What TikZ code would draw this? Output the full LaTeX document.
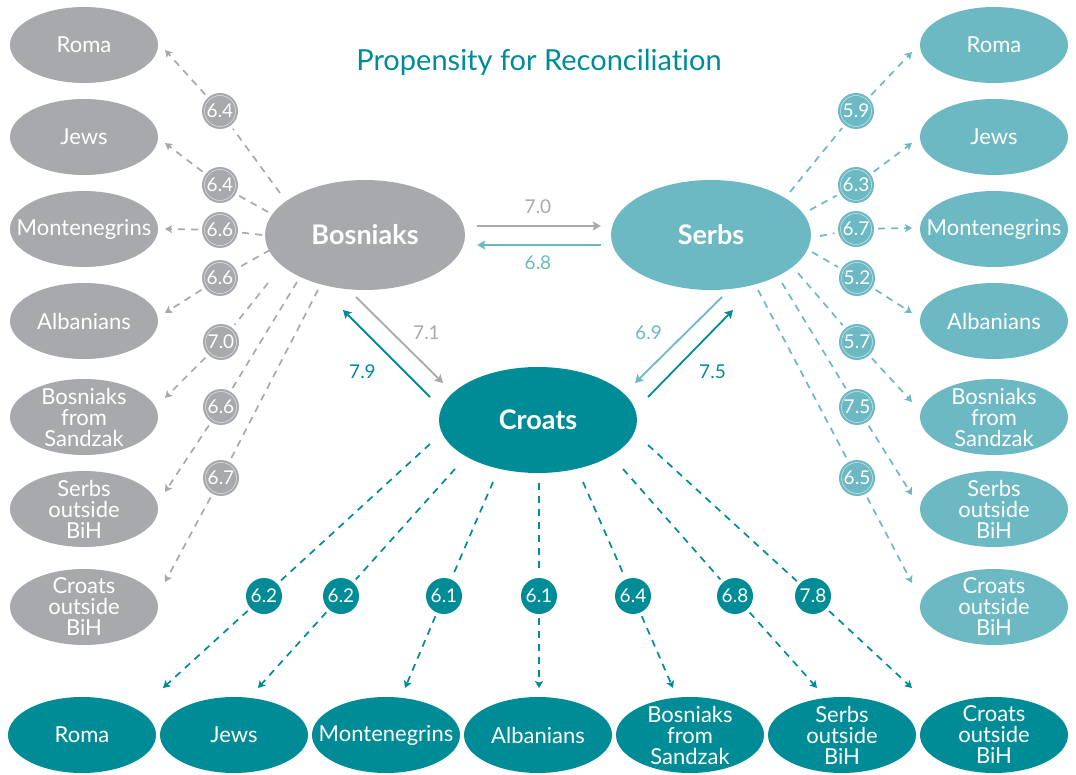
\documentclass[tikz,border=0pt]{standalone}
\usepackage{fontspec}
\setmainfont{Lato}[Ligatures=NoCommon]
\usetikzlibrary{shapes.geometric,arrows.meta}
\definecolor{cgray}{HTML}{A7A9AC}
\definecolor{clt}{HTML}{6CB9C3}
\definecolor{cdk}{HTML}{008C96}
\newcommand\lblfont{\fontsize{22}{21}\selectfont}
\newcommand\numfont{\fontsize{19}{19}\selectfont}
\newcommand\bigfont{\fontsize{27}{27}\selectfont\bfseries}
\newcommand\titlefont{\fontsize{29}{29}\selectfont}
\tikzset{
  oval/.style={ellipse, fill=#1, minimum width=148pt, minimum height=76pt, inner sep=0pt},
  otxt/.style={text=white, font=\lblfont, align=center},
  mainoval/.style={ellipse, fill=#1, minimum width=200pt, minimum height=110pt, inner sep=0pt, text=white, font=\bigfont},
  numc/.style={circle, fill=#1, minimum size=36pt, inner sep=0pt, outer sep=4pt, text=white, font=\numfont},
  ring/.style={path picture={\draw[white!70!#1, line width=0.5pt] (path picture bounding box.center) circle (15.5pt);}},
  dashln/.style={draw=#1, line width=1.7pt, dash pattern=on 7pt off 6pt},
  dtip/.style={-{Stealth[length=7pt,width=8pt,inset=1.5pt]}},
  solidarr/.style={draw=#1, line width=1.8pt, -{Stealth[length=8pt,width=9pt,inset=1.5pt]}},
  lab/.style={text=#1, font=\numfont, inner sep=0pt}
}
\begin{document}
\begin{tikzpicture}[x=1pt,y=-1pt]
\useasboundingbox (0,0) rectangle (1076,775);

% title
\node[text=cdk, font=\titlefont] (title) at (539,62) {Propensity for Reconciliation};

% main nodes
\node[mainoval=cgray] (bos) at (365,235) {Bosniaks};
\node[mainoval=clt] (ser) at (711,235) {Serbs};
\node[mainoval=cdk, minimum width=198pt, minimum height=106pt] (cro) at (538,420) {Croats};

% left column (gray)
\node[oval=cgray, label={[otxt]center:Roma}] (lroma) at (84,45) {};
\node[oval=cgray, label={[otxt]center:Jews}] (ljews) at (84,137) {};
\node[oval=cgray, label={[otxt]center:Montenegrins}] (lmont) at (84,229) {};
\node[oval=cgray, label={[otxt]center:Albanians}] (lalb) at (84,321) {};
\node[oval=cgray, label={[otxt]center:{Bosniaks\\from\\Sandzak}}] (lsan) at (84,417) {};
\node[oval=cgray, label={[otxt]center:{Serbs\\outside\\BiH}}] (lser) at (84,509) {};
\node[oval=cgray, label={[otxt]center:{Croats\\outside\\BiH}}] (lcro) at (84,607) {};

% right column (light teal)
\node[oval=clt, label={[otxt]center:Roma}] (rroma) at (994,45) {};
\node[oval=clt, label={[otxt]center:Jews}] (rjews) at (994,137) {};
\node[oval=clt, label={[otxt]center:Montenegrins}] (rmont) at (994,229) {};
\node[oval=clt, label={[otxt]center:Albanians}] (ralb) at (994,321) {};
\node[oval=clt, label={[otxt]center:{Bosniaks\\from\\Sandzak}}] (rsan) at (994,417) {};
\node[oval=clt, label={[otxt]center:{Serbs\\outside\\BiH}}] (rser) at (994,509) {};
\node[oval=clt, label={[otxt]center:{Croats\\outside\\BiH}}] (rcro) at (994,607) {};

% bottom row (dark teal)
\node[oval=cdk, label={[otxt]center:Roma}] (broma) at (82,735) {};
\node[oval=cdk, label={[otxt]center:Jews}] (bjews) at (234,735) {};
\node[oval=cdk, label={[otxt]center:Montenegrins}] (bmont) at (386,735) {};
\node[oval=cdk, label={[otxt]center:Albanians}] (balb) at (538,735) {};
\node[oval=cdk, label={[otxt]center:{Bosniaks\\from\\Sandzak}}] (bsan) at (690,735) {};
\node[oval=cdk, label={[otxt]center:{Serbs\\outside\\BiH}}] (bser) at (842,735) {};
\node[oval=cdk, label={[otxt]center:{Croats\\outside\\BiH}}] (bcro) at (994,735) {};

% Bosniaks -> left column
\foreach \n/\sx/\sy/\cx/\cy/\ty/\v in {
  1/280/193/220/111/50/6.4,
  2/268/212/220/185/143/6.4,
  3/262/235/220/230/229/6.6,
  4/270/250/220/278/313/6.6,
  5/268/283/221/342/398/7.0,
  6/297/282/221/407/492/6.6,
  7/318/290/221/478/582/6.7}{
  \node[numc=cgray, ring=cgray] (gc\n) at (\cx,\cy) {\v};
  \coordinate (gs\n) at (\sx,\sy);
  \coordinate (gt\n) at (165,\ty);
  \draw[dashln=cgray] (gs\n) -- (gc\n);
  \draw[dashln=cgray, dtip] (gc\n) -- (gt\n);
}

% Serbs -> right column
\foreach \n/\sx/\sy/\cx/\cy/\ty/\v in {
  1/790/192/856/111/52/5.9,
  2/810/210/856/185/143/6.3,
  3/820/236/856/229/228/6.7,
  4/812/252/857/278/313/5.2,
  5/798/273/857/342/402/5.7,
  6/782/283/857/407/495/7.5,
  7/758/290/857/478/583/6.5}{
  \node[numc=clt, ring=clt] (lc\n) at (\cx,\cy) {\v};
  \coordinate (ls\n) at (\sx,\sy);
  \coordinate (lt\n) at (912,\ty);
  \draw[dashln=clt] (ls\n) -- (lc\n);
  \draw[dashln=clt, dtip] (lc\n) -- (lt\n);
}

% Croats -> bottom row
\foreach \n/\sx/\sy/\cx/\tx/\v in {
  1/430/444/264/163/6.2,
  2/455/469/341/258/6.2,
  3/493/482/444/405/6.1,
  4/539/483/539/539/6.1,
  5/583/482/633/673/6.4,
  6/623/469/735/817/6.8,
  7/648/445/813/912/7.8}{
  \node[numc=cdk] (dc\n) at (\cx,596) {\v};
  \coordinate (ds\n) at (\sx,\sy);
  \coordinate (dt\n) at (\tx,688);
  \draw[dashln=cdk] (ds\n) -- (dc\n);
  \draw[dashln=cdk, dtip] (dc\n) -- (dt\n);
}

% main arrows
\draw[solidarr=cgray, shorten <=12pt, shorten >=10pt] ([yshift=9pt]bos.east) -- ([yshift=9pt]ser.west)
  node[lab=cgray, midway, yshift=19pt] {7.0};
\draw[solidarr=clt, shorten <=10pt, shorten >=12pt] ([yshift=-10pt]ser.west) -- ([yshift=-10pt]bos.east)
  node[lab=clt, midway, yshift=-18pt] {6.8};

\coordinate (bc1) at (356,297); \coordinate (bc2) at (443,383);
\coordinate (cb1) at (430,397); \coordinate (cb2) at (343,310);
\coordinate (sc1) at (722,297); \coordinate (sc2) at (635,383);
\coordinate (cs1) at (648,397); \coordinate (cs2) at (733,310);
\draw[solidarr=cgray] (bc1) -- (bc2) node[lab=cgray, midway, xshift=27pt, yshift=7pt] {7.1};
\draw[solidarr=cdk] (cb1) -- (cb2) node[lab=cdk, midway, xshift=-24pt, yshift=-18pt] {7.9};
\draw[solidarr=clt] (sc1) -- (sc2) node[lab=clt, midway, xshift=-30pt, yshift=7pt] {6.9};
\draw[solidarr=cdk] (cs1) -- (cs2) node[lab=cdk, midway, xshift=22pt, yshift=-18pt] {7.5};
\end{tikzpicture}
\end{document}
